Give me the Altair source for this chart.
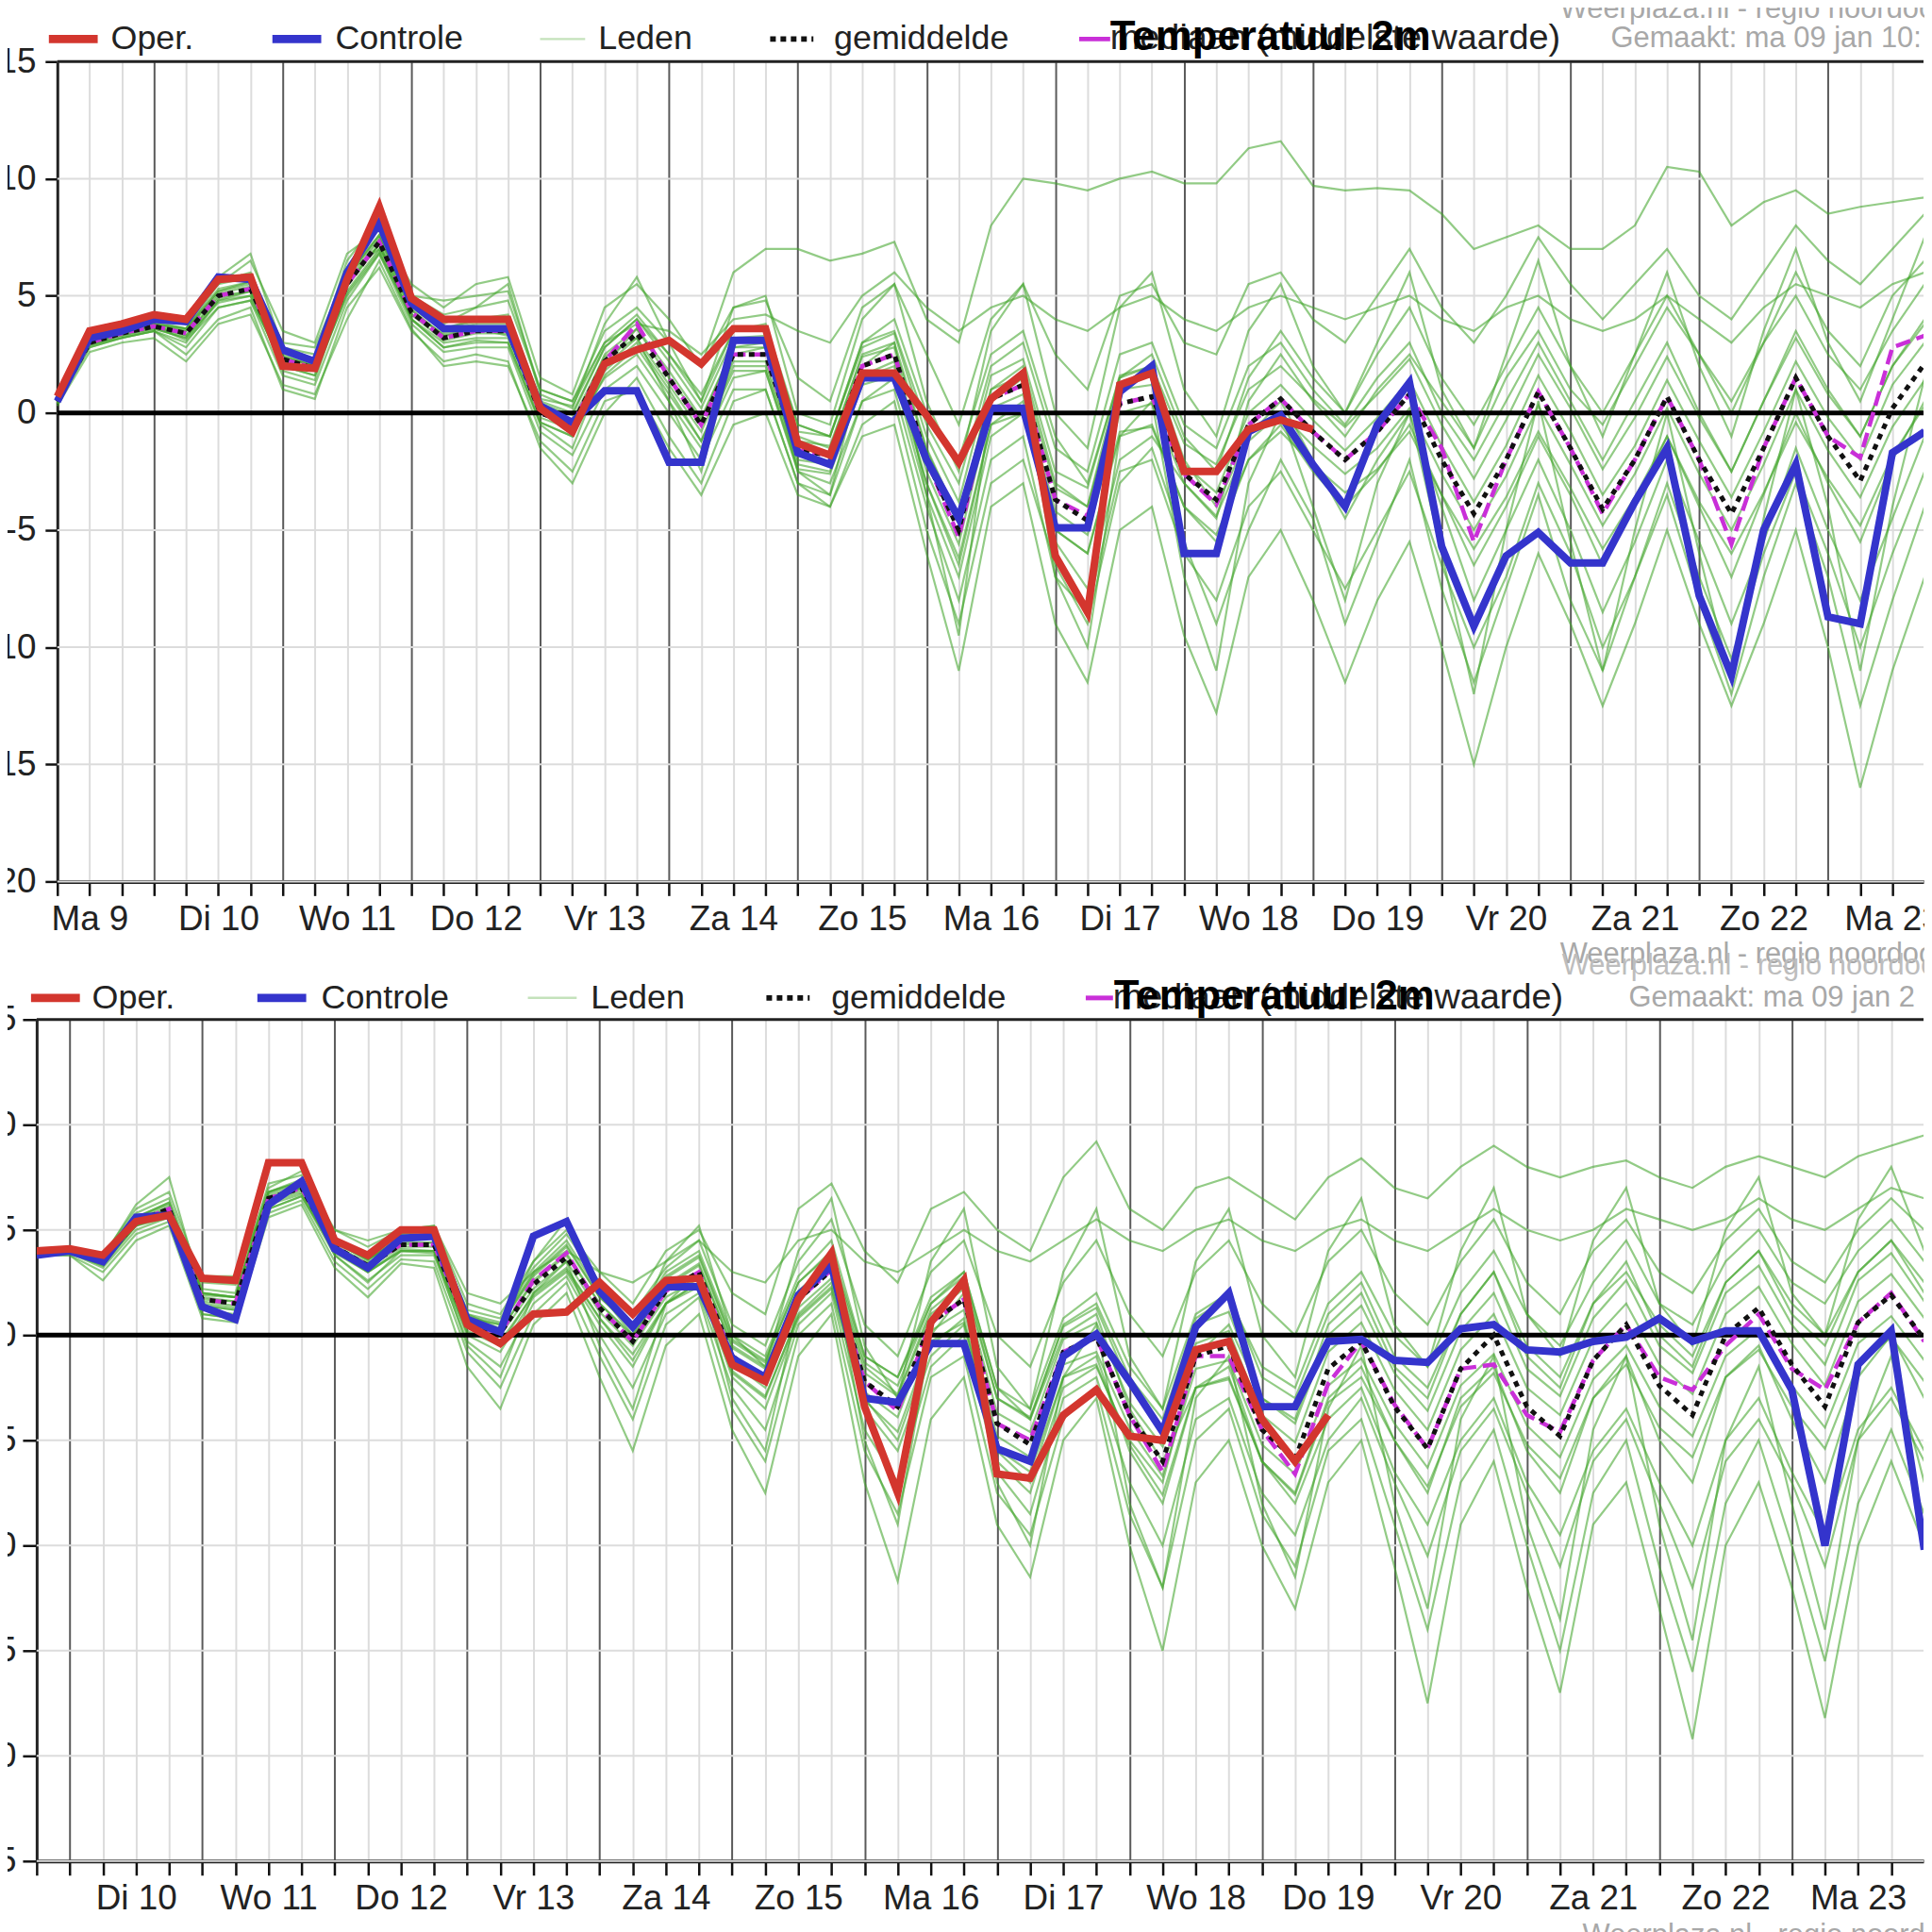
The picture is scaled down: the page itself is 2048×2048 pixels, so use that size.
import json
import altair as alt
import pandas as pd

FONT = "Liberation Sans Narrow, Liberation Sans, Arial, sans-serif"
BFONT = "Liberation Sans, Arial, sans-serif"

day_names = ["Ma 9", "Di 10", "Wo 11", "Do 12", "Vr 13", "Za 14", "Zo 15", "Ma 16",
             "Di 17", "Wo 18", "Do 19", "Vr 20", "Za 21", "Zo 22", "Ma 23", "Di 24"]

# ---------------- top panel (run 00z, first value Ma 9 06h, 6-hourly) ----------------
top_hours = list(range(6, 6 + 6 * 59, 6))
top_oper = [0.7,3.5,3.8,4.2,4.0,5.7,5.8,2.0,1.9,5.7, 8.8,4.9,4.0,4.0,4.0,0.2,-0.8,2.1,2.7,3.1,
            2.1,3.6,3.6,-1.3,-1.8,1.7,1.7,-0.1,-2.1,0.6, 1.7,-6.1,-8.5,1.2,1.7,-2.5,-2.5,-0.7,-0.3,-0.7]
top_ctrl = [0.5,3.2,3.5,4.0,3.9,5.8,5.7,2.7,2.2,6.0, 8.1,4.7,3.6,3.6,3.6,0.3,-0.4,0.95,0.95,-2.1,
            -2.1,3.1,3.1,-1.7,-2.2,1.5,1.5,-2.0,-4.5,0.2, 0.2,-4.9,-4.9,0.9,2.0,-6.0,-6.0,-0.8,-0.1,-2.2,
            -4.0,-0.5,1.3,-5.7,-9.1,-6.1,-5.1,-6.4,-6.4,-3.8, -1.5,-7.8,-11.2,-5.0,-2.2,-8.7,-9.0,-1.7,-0.8]
top_mean = [0.5,3.0,3.4,3.7,3.4,5.0,5.3,2.3,1.9,5.5, 7.3,4.3,3.2,3.5,3.5,0.0,-0.5,2.2,3.4,1.5,
            -0.5,2.5,2.5,-1.6,-1.8,2.0,2.5,-2.0,-5.0,0.6, 1.2,-3.7,-4.6,0.4,0.7,-2.6,-3.7,-0.5,0.6,-0.8,
            -2.0,-0.8,0.8,-2.0,-4.3,-2.0,0.9,-1.5,-4.1,-2.0, 0.7,-2.0,-4.3,-1.5,1.5,-1.0,-2.9,0.2,2.1]
top_median = [0.5,3.0,3.4,3.7,3.4,5.0,5.3,2.3,1.9,5.5, 7.3,4.3,3.2,3.5,3.5,0.0,-0.5,2.2,3.8,1.5,
              -0.5,2.5,2.5,-1.6,-1.8,2.0,2.5,-2.0,-5.3,0.6, 1.2,-3.7,-4.4,0.4,0.7,-2.6,-3.9,-0.5,0.6,-0.8,
              -2.0,-0.8,0.8,-1.5,-5.5,-2.0,0.9,-1.5,-4.3,-2.0, 0.7,-2.0,-5.6,-1.5,1.5,-1.0,-1.9,2.8,3.3]
top_members = {
    "A": [0.6,3.2,3.6,4.0,3.8,5.6,6.0,2.8,2.5,6.2, 8.0,5.0,4.2,4.5,4.8,1.0,0.5,3.5,4.5,3.0,
          2.0,6.0,7.0,7.0,6.5,6.8,7.3,4.0,3.0,8.0, 10.0,9.8,9.5,10.0,10.3,9.8,9.8,11.3,11.6,9.7,
          9.5,9.6,9.5,8.5,7.0,7.5,8.0,7.0,7.0,8.0, 10.5,10.3,8.0,9.0,9.5,8.5,8.8,9.0,9.2],
    "B": [0.3,2.6,3.0,3.2,2.2,3.8,4.2,1.2,0.8,4.0, 6.5,3.6,2.0,2.2,2.0,-1.2,-2.5,0.5,1.0,-1.5,
          -3.5,-0.5,0.0,-3.5,-4.0,-1.0,-0.5,-6.0,-11.0,-4.0, -3.0,-9.0,-11.5,-5.0,-4.0,-9.5,-12.8,-7.0,-5.0,-8.0,
          -11.5,-8.0,-5.5,-10.0,-15.0,-10.0,-6.0,-9.0,-12.5,-9.0, -5.0,-9.0,-12.5,-9.0,-5.0,-10.0,-16.0,-11.0,-7.0],
    "C": [0.5,3.1,3.5,3.9,3.6,5.5,6.5,3.5,3.0,6.8, 7.8,5.5,4.5,5.5,5.8,1.5,0.8,4.5,5.5,4.0,
          2.0,4.5,4.8,1.5,0.5,4.5,5.5,2.5,-0.5,4.0, 5.5,2.5,1.0,5.0,5.5,3.0,2.5,5.5,6.0,4.0,
          3.0,5.0,7.0,4.5,3.0,5.0,7.5,5.5,4.0,5.5, 7.0,5.0,4.0,6.0,8.0,6.5,5.5,7.0,8.5],
    "D": [0.4,2.8,3.2,3.5,2.8,4.5,4.8,1.6,1.2,4.8, 6.8,3.8,2.6,2.8,2.8,-0.8,-1.8,1.0,2.0,0.0,
          -2.0,1.0,1.0,-3.0,-3.5,0.5,1.0,-4.0,-8.0,-2.0, -1.0,-7.0,-8.5,-2.5,-2.0,-6.0,-8.0,-4.0,-2.5,-5.0,
          -7.5,-5.0,-2.5,-6.5,-10.0,-7.0,-3.0,-6.0,-10.0,-7.0, -3.0,-7.0,-10.5,-6.0,-2.5,-6.0,-10.0,-6.0,-2.5],
    "E": [0.5,3.0,3.5,3.8,3.5,5.2,5.5,2.5,2.0,5.8, 7.5,4.5,3.5,3.8,3.8,0.5,0.0,2.8,4.0,2.5,
          0.5,3.5,3.5,-0.5,-1.0,3.0,3.5,-0.5,-3.0,2.0, 3.0,-1.5,-2.5,2.5,3.0,-0.5,-1.5,2.0,3.0,1.0,
          -0.5,1.5,3.0,0.0,-2.0,0.5,3.0,0.5,-2.0,0.5, 3.0,0.0,-2.5,0.5,3.5,1.0,-1.0,2.0,4.0],
    "F": [0.5,2.9,3.3,3.6,3.2,4.8,5.0,2.0,1.6,5.2, 7.0,4.0,3.0,3.2,3.2,-0.4,-1.0,1.8,3.0,1.0,
          -1.2,2.0,2.0,-2.2,-2.5,1.5,2.0,-3.0,-6.5,-0.5, 0.5,-5.0,-6.0,-1.0,-0.5,-4.0,-5.5,-2.0,-0.5,-2.5,
          -4.0,-2.5,-0.5,-3.5,-6.5,-4.0,-1.0,-3.5,-6.5,-4.0, -1.0,-4.0,-7.0,-3.5,0.0,-3.0,-5.5,-2.0,0.5],
    "G": [0.6,3.3,3.7,4.0,3.9,5.5,5.8,3.0,2.8,6.0, 7.0,5.0,4.8,5.0,5.2,1.0,0.5,3.0,3.8,3.5,
          2.5,4.0,4.2,3.5,3.0,5.0,6.0,4.5,3.5,4.5, 5.0,4.0,3.5,4.5,5.0,4.0,3.5,4.5,5.0,4.5,
          4.0,4.5,5.0,4.0,3.5,4.5,5.0,4.0,3.5,4.0, 5.0,4.0,3.0,4.5,5.5,5.0,4.5,5.5,6.0],
    "H": [0.4,2.9,3.2,3.5,3.0,4.8,5.2,1.8,1.4,5.5, 7.2,4.0,2.8,3.0,3.0,-0.5,-1.5,2.0,3.2,0.5,
          -2.5,2.5,2.8,-2.5,-3.5,2.0,3.0,-3.5,-9.5,0.5, 1.5,-7.0,-10.0,-1.0,0.5,-7.0,-11.0,-3.0,0.0,-4.0,
          -8.0,-3.0,0.0,-6.0,-12.0,-5.0,0.5,-5.5,-11.0,-5.0, 0.0,-6.0,-11.5,-4.5,1.0,-4.0,-11.0,-4.0,1.5],
    "I": [0.6,3.1,3.6,3.9,3.8,5.8,6.8,2.8,2.3,6.5, 8.3,4.8,3.8,4.5,5.5,0.8,0.2,3.8,5.8,3.0,
          0.5,4.5,5.0,0.0,-0.5,4.0,5.5,0.5,-2.5,3.5, 5.5,0.0,-1.5,4.5,6.0,1.0,-1.0,3.5,5.5,2.0,
          0.0,3.0,6.0,1.0,-1.5,2.5,6.5,2.0,-1.0,2.5, 6.0,2.0,-1.0,3.5,7.0,3.0,0.5,4.0,7.5],
    "J": [0.5,3.0,3.4,3.7,3.1,4.5,4.8,2.2,1.8,5.0, 6.8,4.2,3.4,3.6,3.3,0.2,-0.8,1.5,2.5,0.5,
          -1.5,1.5,1.8,-2.5,-3.0,0.5,1.5,-3.5,-7.0,-1.0, 0.0,-5.5,-7.5,-2.0,-1.0,-3.0,-4.5,0.5,2.5,0.5,
          -1.0,1.0,2.5,0.5,-1.5,1.5,3.5,1.0,-0.5,2.0, 4.5,2.5,0.0,3.0,5.0,2.5,1.0,3.5,5.5],
    "K": [0.5,3.0,3.4,3.8,3.6,5.2,5.6,2.6,2.2,5.8, 7.6,4.6,3.6,4.0,4.2,0.6,0.3,3.0,4.2,2.5,
          0.8,3.5,3.8,-0.5,-1.0,3.0,4.0,0.0,-2.0,2.5, 3.5,-1.0,-3.0,1.5,2.0,-2.0,-4.0,-1.0,0.5,-2.0,
          -4.5,-2.0,0.0,-4.0,-8.0,-5.0,-2.0,-5.0,-8.5,-5.5, -2.0,-5.5,-9.0,-5.5,-1.5,-5.0,-8.0,-4.5,-1.0],
    "L": [0.4,2.8,3.2,3.5,2.5,4.0,4.5,1.0,0.6,4.5, 6.2,3.5,2.2,2.5,2.2,-1.5,-3.0,0.0,1.5,-1.0,
          -3.0,0.5,1.0,-3.0,-4.0,-0.5,0.5,-5.0,-9.0,-3.0, -2.0,-6.5,-9.0,-3.0,-1.5,-5.5,-9.0,-5.0,-2.0,-4.5,
          -9.0,-5.5,-2.0,-7.5,-11.5,-7.5,-3.5,-8.0,-11.0,-7.0, -3.5,-8.0,-12.0,-7.0,-3.0,-7.0,-12.5,-8.0,-4.0],
    "N": [0.5,3.0,3.4,3.7,3.3,5.0,5.2,2.4,2.0,5.5, 7.2,4.4,3.3,3.5,3.6,0.0,-0.6,2.5,3.6,1.5,
          -0.3,2.8,3.0,-1.0,-1.5,2.5,3.0,-1.5,-4.5,1.0, 2.0,-3.0,-4.0,1.5,2.5,-1.0,-2.5,1.5,3.5,1.5,
          0.0,2.5,4.5,1.5,-0.5,2.0,4.5,2.0,0.0,2.5, 5.0,2.5,0.5,3.0,6.0,3.5,2.0,5.0,6.5],
    "P": [0.5,3.1,3.5,3.8,3.6,5.3,5.6,2.6,2.2,5.9, 7.6,4.6,3.6,3.9,4.0,0.4,-0.1,2.8,4.0,2.2,
          0.2,3.2,3.3,-0.8,-1.0,2.8,3.4,-1.0,-3.8,1.6, 2.3,-2.5,-3.2,1.6,2.0,-1.3,-2.2,1.0,2.0,0.6,
          -0.6,0.8,2.3,-0.5,-2.8,-0.3,2.5,0.2,-2.4,-0.2, 2.4,-0.2,-2.5,0.5,3.2,0.8,-1.0,2.0,3.8],
    "Q": [0.5,2.9,3.3,3.6,3.2,4.7,5.0,2.0,1.6,5.1, 6.9,4.0,2.8,3.1,3.0,-0.4,-1.0,1.6,2.8,0.8,
          -1.2,1.8,1.8,-2.4,-2.6,1.2,1.6,-3.0,-6.2,-0.5, 0.0,-5.0,-6.0,-0.8,-0.6,-4.0,-5.2,-2.0,-0.8,-2.2,
          -3.4,-2.4,-0.8,-3.5,-5.8,-3.6,-0.8,-3.2,-5.8,-3.6, -1.0,-3.8,-6.0,-3.4,-0.4,-2.8,-4.8,-1.8,0.3],
    "R": [0.5,3.0,3.4,3.7,3.3,4.9,5.2,2.2,1.8,5.4, 7.2,4.2,3.1,3.4,3.4,-0.2,-0.7,2.0,3.6,1.8,
          -0.2,2.8,2.8,-1.2,-1.4,2.4,2.8,-1.6,-4.5,1.0, 1.6,-3.2,-4.0,1.0,1.2,-2.2,-3.4,0.0,1.2,-0.3,
          -1.6,-0.2,1.4,-1.4,-3.8,-1.4,1.6,-0.8,-3.5,-1.4, 1.4,-1.2,-3.6,-0.8,2.2,-0.2,-2.0,1.2,3.0],
    "S": [0.5,3.0,3.4,3.7,3.5,5.1,5.4,2.4,2.0,5.6, 7.4,4.4,3.3,3.6,3.6,0.2,-0.3,2.4,3.2,1.2,
          -0.8,2.2,2.2,-2.0,-2.2,1.6,2.2,-2.5,-5.6,0.2, 0.8,-4.2,-5.2,0.0,0.4,-3.0,-4.4,-1.2,0.0,-1.4,
          -2.6,-1.5,0.2,-2.6,-5.0,-2.7,0.3,-2.2,-4.8,-2.6, 0.2,-2.6,-5.0,-2.2,1.0,-1.6,-3.6,-0.6,1.4],
}

# ---------------- bottom panel (run 12z, first value Ma 9 18h, 6-hourly) ----------------
bot_hours = list(range(18, 18 + 6 * 58, 6))
bot_oper = [4.0,4.1,3.8,5.4,5.7,2.7,2.6,8.2,8.2,4.5, 3.8,5.0,5.0,0.5,-0.4,1.0,1.1,2.5,1.0,2.6,
            2.7,-1.4,-2.2,1.7,3.9,-3.4,-7.5,0.6,2.6,-6.6, -6.8,-3.8,-2.6,-4.8,-5.0,-0.7,-0.3,-4.0,-6.0,-3.8]
bot_ctrl = [3.8,4.0,3.5,5.6,5.7,1.35,0.75,6.2,7.3,4.1, 3.2,4.6,4.7,0.75,0.15,4.7,5.4,2.1,0.4,2.3,
            2.3,-1.1,-2.0,1.9,3.3,-3.0,-3.2,-0.4,-0.4,-5.4, -6.0,-1.0,0.05,-2.2,-4.6,0.4,2.0,-3.4,-3.4,-0.3,
            -0.2,-1.2,-1.3,0.3,0.5,-0.7,-0.8,-0.3,-0.1,0.8, -0.3,0.2,0.2,-2.6,-10.0,-1.4,0.2,-10.2]
bot_mean = [3.9,4.0,3.5,5.4,6.0,1.7,1.5,6.5,7.0,4.2, 3.3,4.3,4.3,0.5,0.1,2.4,3.7,1.3,-0.3,2.1,
            3.0,-1.0,-2.1,1.7,3.1,-2.2,-3.4,0.6,1.7,-4.2, -5.2,-0.8,-0.1,-3.8,-6.0,-1.0,-0.5,-4.5,-5.9,-1.6,
            -0.3,-3.4,-5.4,-1.6,0.0,-3.4,-4.8,-1.2,0.5,-2.4, -3.8,0.0,1.3,-1.4,-3.4,0.6,1.9,-0.2]
bot_median = [3.9,4.0,3.5,5.4,6.0,1.7,1.5,6.5,7.0,4.2, 3.3,4.3,4.3,0.5,0.1,2.6,3.9,1.3,-0.3,2.1,
              3.0,-1.0,-2.1,1.7,3.1,-2.2,-3.6,0.6,1.7,-4.2, -5.0,-0.8,-0.1,-3.8,-6.5,-1.0,-1.0,-4.5,-6.6,-2.3,
              -0.3,-3.3,-5.4,-1.6,-1.4,-3.8,-4.6,-1.2,0.5,-2.0, -2.6,-0.5,1.0,-1.6,-2.6,0.6,2.0,-0.3]
bot_members = {
    "A": [4.0,4.2,3.8,6.0,6.8,2.5,2.4,7.0,7.8,5.0, 4.2,5.0,5.2,1.5,1.0,3.5,5.0,3.0,1.5,4.0,
          5.0,2.0,1.0,6.0,7.2,4.0,2.5,6.0,6.8,5.0, 4.0,7.5,9.2,6.0,5.0,7.0,7.5,6.5,5.5,7.5,
          8.4,7.0,6.5,8.0,9.0,8.0,7.5,8.0,8.3,7.5, 7.0,8.0,8.5,8.0,7.5,8.5,9.0,9.5],
    "B": [3.8,3.8,2.6,4.5,5.2,0.8,0.6,5.6,6.2,3.2, 1.8,3.4,3.2,-1.5,-3.5,0.5,2.0,-2.0,-5.5,-0.5,
          1.0,-4.5,-7.5,-1.0,1.0,-7.0,-11.7,-4.0,-2.0,-9.0, -11.5,-5.0,-3.0,-10.0,-15.0,-7.0,-5.0,-10.0,-13.0,-7.0,
          -5.0,-11.0,-17.5,-9.0,-6.0,-12.0,-17.0,-9.0,-7.0,-13.0, -19.2,-10.0,-7.0,-12.0,-18.2,-10.0,-6.0,-10.0],
    "C": [3.9,4.1,3.7,5.8,6.5,2.2,2.0,6.8,7.4,4.6, 3.8,4.8,4.8,1.2,0.8,3.2,4.8,2.5,1.0,3.2,
          4.5,0.5,-0.5,3.5,5.5,0.5,-1.0,3.0,4.5,0.0, -1.5,2.5,4.5,1.0,-1.0,3.0,4.5,1.5,0.0,3.5,
          5.0,2.0,0.5,3.5,5.5,2.5,1.0,4.0,5.5,3.0, 2.0,4.5,6.0,3.5,2.5,5.0,6.5,5.0],
    "D": [3.8,3.9,3.2,5.0,5.6,1.2,1.0,6.0,6.6,3.8, 2.6,3.8,3.8,-0.3,-1.5,1.5,2.8,0.0,-2.5,1.0,
          2.0,-2.5,-4.5,0.5,2.0,-4.5,-7.0,-1.5,0.0,-6.5, -8.5,-3.0,-2.0,-7.0,-10.0,-4.0,-3.0,-7.5,-9.5,-5.0,
          -3.0,-7.0,-10.5,-5.5,-3.5,-7.5,-11.0,-6.0,-4.0,-8.0, -12.0,-6.0,-4.0,-7.0,-11.0,-5.0,-3.0,-6.0],
    "E": [3.9,4.0,3.6,5.6,6.2,1.9,1.8,6.7,7.2,4.4, 3.6,4.5,4.6,0.8,0.5,2.8,4.2,1.8,0.5,2.8,
          3.8,-0.2,-1.2,2.5,4.0,-1.0,-2.0,1.8,3.0,-2.5, -3.5,0.8,2.0,-1.5,-3.5,1.0,2.0,-2.0,-3.0,1.0,
          2.5,-1.0,-2.5,1.0,3.0,-0.5,-2.0,1.5,3.0,0.5, -1.0,2.5,4.0,1.5,0.0,3.0,4.5,2.5],
    "F": [3.9,4.0,3.4,5.2,5.8,1.5,1.3,6.3,6.8,4.0, 3.0,4.1,4.0,0.2,-0.5,2.0,3.2,0.8,-1.2,1.5,
          2.5,-1.8,-3.0,1.0,2.5,-3.0,-5.0,-0.5,0.8,-5.5, -7.0,-2.0,-1.0,-5.5,-8.0,-2.5,-1.5,-6.0,-7.5,-3.0,
          -1.5,-5.0,-7.5,-3.0,-1.5,-5.5,-7.5,-3.0,-1.0,-5.0, -7.0,-2.0,-0.5,-4.0,-7.0,-2.0,0.0,-3.0],
    "G": [4.0,4.1,3.9,5.5,6.0,2.8,2.8,6.5,7.0,5.0, 4.5,5.0,5.2,2.0,1.5,3.0,4.0,3.0,2.5,3.5,
          4.5,3.0,2.5,4.5,5.0,3.5,3.0,4.0,5.0,4.0, 3.5,4.5,5.5,4.5,4.0,5.0,5.5,4.5,4.0,5.0,
          5.5,4.5,4.0,5.0,6.0,5.0,4.5,5.0,6.0,5.5, 5.0,5.5,6.5,5.5,5.0,6.0,7.0,6.5],
    "H": [3.8,3.9,3.3,5.3,6.0,1.0,0.8,6.5,7.0,3.8, 2.5,4.0,4.0,-0.5,-2.0,2.0,3.5,-0.5,-3.5,1.5,
          3.0,-3.0,-5.5,1.5,3.5,-5.0,-9.0,0.0,2.0,-7.0, -10.0,-2.0,0.5,-8.0,-12.0,-3.0,-1.0,-8.0,-11.5,-3.5,
          -0.5,-8.0,-13.0,-4.0,-1.0,-9.0,-13.5,-4.5,-1.0,-9.0, -14.5,-5.0,-1.5,-8.0,-14.0,-5.0,-1.0,-7.0],
    "I": [4.0,4.1,3.7,6.2,7.5,2.0,1.8,7.2,7.6,4.5, 3.5,4.8,5.0,1.0,0.3,3.5,5.5,2.0,0.0,3.5,
          5.2,0.0,-1.5,4.0,6.5,-0.5,-3.0,3.5,6.0,-1.5, -3.5,3.0,6.0,-1.0,-3.5,3.5,6.0,0.0,-2.0,4.0,
          6.5,0.5,-1.5,4.0,7.0,1.0,-1.0,4.5,7.0,1.5, -0.5,5.0,7.5,2.0,0.0,5.5,8.0,4.0],
    "J": [3.9,3.9,3.3,5.2,5.6,1.4,1.2,6.0,6.6,4.0, 3.0,4.0,4.0,0.0,-0.8,1.8,3.0,0.5,-1.5,1.5,
          2.5,-2.0,-3.5,0.8,2.2,-3.5,-5.5,-1.0,0.5,-6.0, -7.5,-2.5,-1.5,-5.0,-7.0,-1.0,0.5,-3.0,-4.0,0.5,
          2.0,-1.5,-3.0,1.0,3.0,-1.0,-2.5,1.5,3.5,0.0, -1.5,2.5,4.0,1.0,-0.5,3.0,4.5,2.0],
    "K": [3.9,4.0,3.6,5.6,6.3,2.0,1.8,6.8,7.3,4.4, 3.6,4.6,4.6,1.0,0.6,3.0,4.5,2.0,0.5,3.0,
          4.0,0.0,-1.0,2.8,4.5,-1.0,-2.0,1.5,3.0,-2.5, -4.0,0.0,1.0,-3.5,-6.0,-2.5,-2.0,-6.0,-8.0,-4.0,
          -2.5,-6.5,-9.0,-5.0,-3.0,-7.0,-9.5,-5.5,-3.5,-7.0, -10.0,-5.0,-3.0,-6.5,-9.5,-4.5,-2.5,-5.5],
    "L": [3.8,3.8,3.0,4.8,5.4,1.0,0.8,5.8,6.4,3.5, 2.2,3.6,3.5,-0.8,-2.5,1.0,2.5,-1.0,-4.0,0.5,
          1.8,-3.5,-6.0,0.0,1.5,-5.5,-8.5,-2.0,-1.0,-7.5, -9.5,-4.0,-2.5,-8.5,-12.0,-5.0,-3.5,-8.5,-11.0,-5.5,
          -4.0,-9.0,-14.0,-7.0,-4.5,-10.0,-15.0,-7.5,-5.0,-11.0, -16.0,-8.0,-5.0,-10.0,-15.5,-8.0,-4.5,-8.5],
    "N": [3.9,4.0,3.5,5.4,6.0,1.7,1.6,6.5,7.0,4.2, 3.4,4.3,4.4,0.6,0.2,2.5,3.8,1.5,0.0,2.3,
          3.3,-0.5,-1.5,2.0,3.5,-1.5,-2.8,1.2,2.5,-3.0, -4.0,0.5,1.5,-2.0,-4.0,0.8,1.8,-1.5,-2.5,1.5,
          3.0,0.0,-1.5,2.0,4.0,1.0,-0.5,2.5,4.5,1.5, 0.5,3.5,5.0,2.5,1.5,4.0,5.5,3.5],
    "P": [3.9,4.1,3.6,5.6,6.3,2.0,1.8,6.8,7.3,4.5, 3.6,4.6,4.7,0.9,0.5,2.9,4.3,1.8,0.3,2.7,
          3.7,-0.3,-1.3,2.5,3.9,-1.3,-2.4,1.5,2.8,-3.0, -3.9,0.4,1.3,-2.4,-4.5,0.5,1.1,-3.0,-4.2,0.0,
          1.4,-1.8,-3.6,0.2,2.0,-1.6,-2.9,0.8,2.6,-0.5, -1.8,2.0,3.3,0.5,-1.4,2.6,3.9,1.6],
    "Q": [3.9,3.9,3.4,5.2,5.7,1.4,1.2,6.2,6.7,3.9, 3.0,4.0,3.9,0.1,-0.3,1.9,3.1,0.8,-0.9,1.5,
          2.3,-1.7,-2.9,0.9,2.3,-3.1,-4.6,-0.3,0.6,-5.4, -6.5,-2.0,-1.4,-5.2,-7.6,-2.5,-2.1,-6.0,-7.6,-3.2,
          -2.0,-5.0,-7.2,-3.4,-1.8,-5.2,-6.8,-3.0,-1.4,-4.4, -5.8,-2.0,-0.7,-3.4,-5.4,-1.4,-0.1,-2.2],
    "R": [3.9,4.0,3.5,5.5,6.1,1.8,1.6,6.6,7.1,4.3, 3.4,4.4,4.4,0.6,0.2,2.6,3.9,1.5,-0.1,2.4,
          3.4,-0.6,-1.6,2.1,3.5,-1.8,-2.9,1.0,2.2,-3.7, -4.6,-0.2,0.6,-3.2,-5.3,-0.4,0.2,-3.8,-5.1,-0.8,
          0.6,-2.6,-4.5,-0.7,1.0,-2.5,-3.8,-0.2,1.5,-1.4, -2.8,1.0,2.3,-0.4,-2.4,1.6,2.9,0.8],
    "S": [3.9,4.0,3.5,5.3,5.9,1.6,1.4,6.4,6.9,4.1, 3.2,4.2,4.2,0.4,0.0,2.2,3.5,1.1,-0.5,1.8,
          2.7,-1.3,-2.5,1.3,2.7,-2.7,-3.9,0.2,1.2,-4.8, -5.8,-1.4,-0.8,-4.4,-6.7,-1.6,-1.2,-5.2,-6.6,-2.4,
          -1.1,-4.2,-6.3,-2.4,-0.9,-4.3,-5.8,-2.1,-0.5,-3.4, -4.8,-1.0,0.3,-2.4,-4.4,-0.4,0.9,-1.2],
}

legend_labels = ["Oper.", "Controle", "Leden", "gemiddelde", "mediaan (middelste waarde)"]
chart_title = "Temperatuur 2m"
source_text = "Weerplaza.nl - regio noordoost"
made_top = "Gemaakt: ma 09 jan 10:"
made_bot = "Gemaakt: ma 09 jan 2"

RED = "#d3362e"
BLUE = "#3434cc"
GREEN = "#44a52c"
MAG = "#c92fd8"
GRAY = "#a8a8a8"
W = 2009
LBL = 36
ONE = pd.DataFrame({"k": [0]})


def series_df(hours, values, name):
    return pd.DataFrame({"hour": hours[:len(values)], "value": values, "s": name})


def txt(s, x, y, size=LBL, color="#222222", weight="normal", font=FONT):
    return alt.Chart(ONE).mark_text(text=s, align="left", baseline="middle", font=font,
                                    fontSize=size, color=color, fontWeight=weight).encode(
        x=alt.value(x), y=alt.value(y))


def swatch(x0, x1, y, color, width, dash=None):
    kw = dict(color=color, strokeWidth=width)
    if dash:
        kw["strokeDash"] = dash
    return alt.Chart(ONE).mark_rule(**kw).encode(x=alt.value(x0), x2=alt.value(x1), y=alt.value(y))


def panel(hours, oper, ctrl, mean, median, members, x_dom, x_rng, y_dom, height,
          y_off, y_tick, y_pad, leg, extras):
    xs = alt.Scale(domain=x_dom, range=x_rng, nice=False, zero=False)
    ys = alt.Scale(domain=y_dom, nice=False, zero=False)
    ticks = [h for h in range(0, 400, 6) if x_dom[0] <= h <= x_dom[1]]
    yvals = list(range(y_dom[0], y_dom[1] + 1, 5))
    label_expr = ("datum.value % 24 == 12 ? " + json.dumps(day_names) +
                  "[floor(datum.value / 24)] : ''")
    xax = alt.Axis(values=ticks, title=None, grid=True,
                   gridColor={"condition": {"test": "datum.value % 24 === 0", "value": "#5a5a5a"},
                              "value": "#dcdcdc"},
                   gridWidth=2, domainColor="#222222", domainWidth=4, tickColor="#111111",
                   tickWidth=2.5, tickSize=15, labelPadding=7, labelFont=FONT, labelFontSize=LBL + 1,
                   labelColor="#222222", labelExpr=label_expr, labelOverlap=False,
                   labelFlush=False, labelBound=False)
    yax = alt.Axis(values=yvals, title=None, grid=False, offset=y_off, domainColor="#222222",
                   domainWidth=3, tickColor="#111111", tickWidth=2.5, tickSize=y_tick,
                   labelPadding=y_pad, labelFont=FONT, labelFontSize=LBL + 1, labelColor="#222222",
                   labelExpr="'' + datum.value", labelOverlap=False, labelFlush=False)

    def X(f):
        return alt.X(f, scale=xs, axis=xax)

    def Y(f):
        return alt.Y(f, scale=ys, axis=yax)

    hgrid = alt.Chart(pd.DataFrame({"y": yvals, "x0": x_dom[0], "x1": x_dom[1]})).mark_rule(
        color="#dcdcdc", strokeWidth=2).encode(x=X("x0:Q"), x2="x1:Q", y=Y("y:Q"))

    mem = pd.concat([series_df(hours, v, k) for k, v in members.items()])
    members_layer = alt.Chart(mem).mark_line(color=GREEN, strokeWidth=2.2, opacity=0.58,
                                             clip=True).encode(x=X("hour:Q"), y=Y("value:Q"),
                                                               detail="s:N")
    zero = alt.Chart(pd.DataFrame({"y": [0], "x0": x_dom[0], "x1": x_dom[1]})).mark_rule(
        color="#000000", strokeWidth=5).encode(x=X("x0:Q"), x2="x1:Q", y=Y("y:Q"))
    border = alt.Chart(pd.DataFrame({"y": [y_dom[1]], "x0": x_dom[0], "x1": x_dom[1]})).mark_rule(
        color="#222222", strokeWidth=3).encode(x=X("x0:Q"), x2="x1:Q", y=Y("y:Q"))

    med_l = alt.Chart(series_df(hours, median, "median")).mark_line(
        color=MAG, strokeWidth=4.5, strokeDash=[16, 7], clip=True).encode(x=X("hour:Q"), y=Y("value:Q"))
    mean_l = alt.Chart(series_df(hours, mean, "mean")).mark_line(
        color="#111111", strokeWidth=5, strokeDash=[6, 6], clip=True).encode(x=X("hour:Q"), y=Y("value:Q"))
    ctrl_l = alt.Chart(series_df(hours, ctrl, "ctrl")).mark_line(
        color=BLUE, strokeWidth=8, clip=True).encode(x=X("hour:Q"), y=Y("value:Q"))
    oper_l = alt.Chart(series_df(hours, oper, "oper")).mark_line(
        color=RED, strokeWidth=8, clip=True).encode(x=X("hour:Q"), y=Y("value:Q"))

    ly = leg["y"]
    sw = leg["sw"]
    tx = leg["tx"]
    legend = [
        swatch(sw[0][0], sw[0][1], ly, RED, 9),
        txt(legend_labels[0], tx[0], ly),
        swatch(sw[1][0], sw[1][1], ly, BLUE, 9),
        txt(legend_labels[1], tx[1], ly),
        swatch(sw[2][0], sw[2][1], ly, "#c4e2bb", 2.5),
        txt(legend_labels[2], tx[2], ly),
        swatch(sw[3][0], sw[3][1], ly, "#111111", 6, [6, 5]),
        txt(legend_labels[3], tx[3], ly),
        swatch(sw[4][0], sw[4][1], ly, MAG, 5),
        txt(legend_labels[4], tx[4], ly, size=LBL + 2),
        txt(chart_title, leg["title"], ly - 1, size=44, color="#000000", weight="bold", font=BFONT),
    ]
    layers = [hgrid, members_layer, zero, border, med_l, mean_l, ctrl_l, oper_l] + legend + extras
    return alt.layer(*layers).properties(width=W, height=height)


top_extras = [
    txt(source_text, 1622, -55, size=31, color=GRAY),
    txt(made_top, 1676, -24, size=31, color=GRAY),
    alt.Chart(ONE).mark_rule(opacity=0).encode(x=alt.value(-120), x2=alt.value(-119), y=alt.value(-120)),
]
bot_extras = [
    txt(source_text, 1622, -69, size=31, color=GRAY),
    txt(source_text, 1624, -57, size=31, color="#bdbdbd"),
    txt(made_bot, 1695, -23, size=31, color=GRAY),
    txt(source_text, 1646, 976, size=31, color=GRAY),
    alt.Chart(ONE).mark_rule(opacity=0).encode(x=alt.value(W + 300), x2=alt.value(W + 301), y=alt.value(1040)),
]

top = panel(top_hours, top_oper, top_ctrl, top_mean, top_median, top_members,
            x_dom=[6, 353.8], x_rng=[22, W], y_dom=[-20, 15], height=873,
            y_off=-22, y_tick=13, y_pad=10,
            leg={"y": -24, "sw": [(13, 65), (251, 303), (536, 584), (781, 827), (1110, 1143)],
                 "tx": [79, 318, 598, 849, 1143], "title": 1143},
            extras=top_extras)
bottom = panel(bot_hours, bot_oper, bot_ctrl, bot_mean, bot_median, bot_members,
               x_dom=[18, 359.86], x_rng=[0, W], y_dom=[-25, 15], height=896,
               y_off=0, y_tick=15, y_pad=7,
               leg={"y": -23, "sw": [(-6, 46), (235, 287), (523, 575), (777, 823), (1117, 1146)],
                    "tx": [59, 303, 590, 846, 1146], "title": 1147},
               extras=bot_extras)

chart = alt.vconcat(top, bottom, spacing=147, bounds="flush").properties(
    padding={"left": -89, "top": -67, "right": -300, "bottom": -73},
    background="white",
).configure_view(stroke=None)

chart.save("out.html", embed_options={"renderer": "svg", "actions": False})
